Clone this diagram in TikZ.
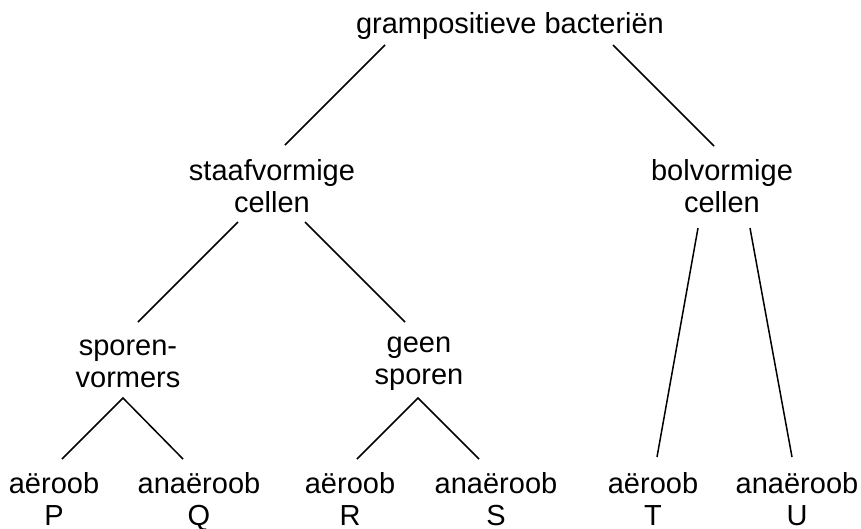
\documentclass[tikz,border=0pt]{standalone}
\usepackage{fontspec}
\setmainfont{Liberation Sans}
\usetikzlibrary{calc}
\begin{document}
\begin{tikzpicture}[x=1pt,y=-1pt,line width=1.5pt,
    every node/.style={anchor=base,align=center,inner sep=0pt,
      font=\fontsize{29}{32}\selectfont}]
    \useasboundingbox (0,0) rectangle (861,528);
    \node (gram) at (510,33) {grampositieve bacteriën}; %Top
    \node (staaf) at (272,212) {staafvormige\\cellen};
    \node (bol) at (722,212) {bolvormige\\cellen};
    \node (spor) at (128,387) {sporen-\\vormers};
    \node (geen) at (419,384) {geen\\sporen};
    \node (p) at (54,525) {aëroob\\P}; %Onderste rij
    \node (q) at (199,525) {anaëroob\\Q};
    \node (r) at (350,525) {aëroob\\R};
    \node (s) at (496,525) {anaëroob\\S};
    \node (t) at (653,525) {aëroob\\T};
    \node (u) at (797,525) {anaëroob\\U};
    \draw ($(gram.base)+(-125,12)$) -- ($(staaf.base)+(13,-67)$);
    \draw ($(gram.base)+(103,12)$) -- ($(bol.base)+(-8,-66)$);
    \draw ($(staaf.base)+(-34,10)$) -- ($(spor.base)+(10,-65)$);
    \draw ($(staaf.base)+(33,10)$) -- ($(geen.base)+(-14,-62)$);
    \draw ($(bol.base)+(-24,16)$) -- ($(t.base)+(4,-68)$);
    \draw ($(bol.base)+(28,16)$) -- ($(u.base)+(-5,-68)$);
    \draw ($(p.base)+(8,-66)$) -- ($(spor.base)+(-5,11)$) -- ($(q.base)+(-16,-66)$); %Sporenvormers
    \draw ($(r.base)+(7,-66)$) -- ($(geen.base)+(-1,14)$) -- ($(s.base)+(-17,-66)$); %Geen sporen
\end{tikzpicture}
\end{document}
